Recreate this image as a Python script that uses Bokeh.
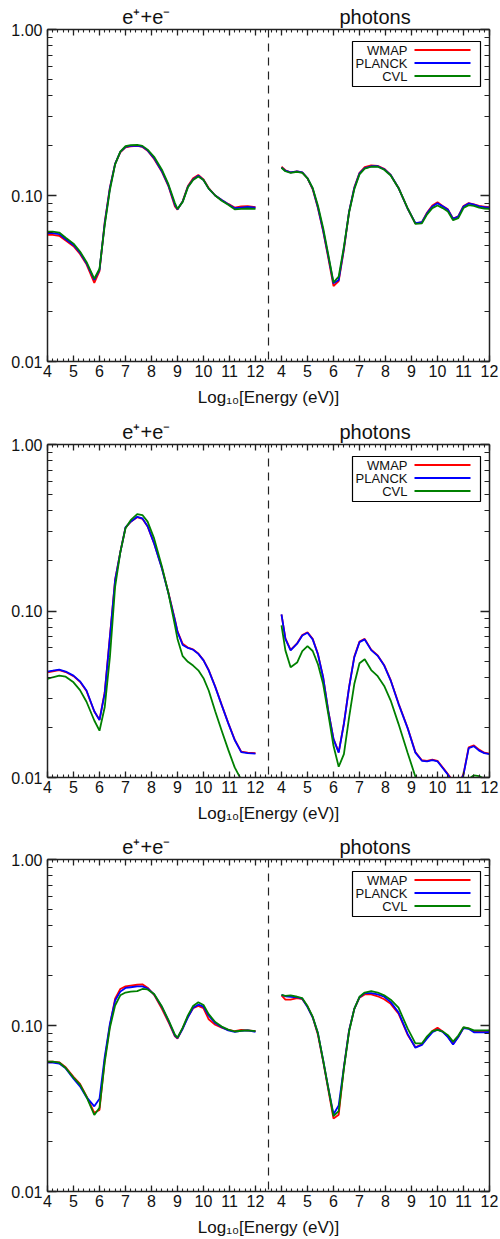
import numpy as np
from bokeh.plotting import figure
from bokeh.layouts import column
from bokeh.models import (FixedTicker, PrintfTickFormatter, LinearAxis, LogAxis,
                          Span, Label, BoxAnnotation, Arrow, Range1d)
from bokeh.embed import file_html
from bokeh.resources import INLINE

FONT = "Liberation Sans"

# ---------------- data ----------------
SERIES = ["WMAP", "PLANCK", "CVL"]
COLORS = ["#ff0000", "#0000ff", "#008000"]

# e+e- energies (log10 eV)
E_X = [4.0, 4.2, 4.45, 4.7, 5.0, 5.25, 5.5, 5.8, 6.0, 6.2, 6.4, 6.6, 6.8, 7.0, 7.2,
       7.45, 7.65, 7.85, 8.1, 8.4, 8.65, 8.9, 9.0, 9.2, 9.4, 9.6, 9.8, 10.0, 10.2,
       10.45, 10.7, 10.95, 11.2, 11.45, 11.7, 12.0]
# photon energies (log10 eV)
G_X = [4.0, 4.15, 4.35, 4.6, 4.8, 5.0, 5.2, 5.4, 5.6, 5.8, 6.0, 6.2, 6.4, 6.6, 6.8,
       7.0, 7.2, 7.45, 7.7, 7.95, 8.2, 8.5, 8.85, 9.15, 9.4, 9.6, 9.8, 10.0, 10.2,
       10.4, 10.6, 10.8, 11.0, 11.2, 11.4, 11.6, 11.8, 12.0]

# panel 1
P1_E_WMAP = [0.0580, 0.0580, 0.0572, 0.0535, 0.0495, 0.0444, 0.0385, 0.0298, 0.0350, 0.0690,
             0.112, 0.155, 0.182, 0.195, 0.198, 0.199, 0.196, 0.186, 0.166, 0.139, 0.114,
             0.086, 0.0822, 0.0925, 0.114, 0.127, 0.133, 0.125, 0.111, 0.100, 0.094, 0.0890,
             0.0845, 0.0860, 0.0862, 0.0850]
P1_E_PLANCK = [0.0593, 0.0593, 0.0585, 0.0545, 0.0504, 0.0452, 0.0391, 0.0310, 0.0357, 0.0680,
               0.1107, 0.155, 0.183, 0.196, 0.199, 0.200, 0.197, 0.187, 0.168, 0.140, 0.115,
               0.088, 0.0827, 0.0921, 0.113, 0.125, 0.1314, 0.124, 0.110, 0.100, 0.094, 0.0885,
               0.0838, 0.0846, 0.0853, 0.0846]
P1_E_CVL = [0.0605, 0.0605, 0.0598, 0.0556, 0.0513, 0.0460, 0.0398, 0.0315, 0.0362, 0.0660,
            0.108, 0.154, 0.184, 0.198, 0.201, 0.202, 0.199, 0.189, 0.171, 0.143, 0.117,
            0.090, 0.0830, 0.0915, 0.112, 0.124, 0.130, 0.124, 0.110, 0.100, 0.093, 0.0880,
            0.0825, 0.0830, 0.0835, 0.0830]
P1_G_WMAP = [0.149, 0.142, 0.138, 0.1395, 0.138, 0.127, 0.109, 0.084, 0.061, 0.042, 0.0285,
             0.0305, 0.047, 0.080, 0.112, 0.137, 0.148, 0.152, 0.151, 0.145, 0.133, 0.111,
             0.0835, 0.0680, 0.0690, 0.0790, 0.0870, 0.0910, 0.0865, 0.0825, 0.0725, 0.0750,
             0.0865, 0.0900, 0.0885, 0.0865, 0.0858, 0.0850]
P1_G_PLANCK = [0.1475, 0.141, 0.138, 0.1395, 0.138, 0.127, 0.110, 0.085, 0.062, 0.043, 0.0296,
               0.031, 0.048, 0.080, 0.111, 0.136, 0.146, 0.150, 0.150, 0.144, 0.133, 0.111,
               0.0835, 0.0681, 0.0690, 0.0783, 0.0859, 0.0898, 0.0860, 0.0820, 0.0723, 0.0747,
               0.0859, 0.0895, 0.0880, 0.0859, 0.0852, 0.0846]
P1_G_CVL = [0.147, 0.140, 0.137, 0.139, 0.137, 0.127, 0.111, 0.087, 0.064, 0.044, 0.0300,
            0.0325, 0.049, 0.079, 0.109, 0.134, 0.145, 0.149, 0.149, 0.143, 0.132, 0.111,
            0.0840, 0.0675, 0.0680, 0.0770, 0.0840, 0.0870, 0.0840, 0.0800, 0.0710, 0.0730,
            0.0840, 0.0875, 0.0865, 0.0845, 0.0835, 0.0830]

# panel 2
P2_E_WMAP = [0.0428, 0.0434, 0.0441, 0.0430, 0.0406, 0.0376, 0.0331, 0.0249, 0.0222, 0.0325,
             0.0705, 0.154, 0.226, 0.317, 0.343, 0.366, 0.358, 0.322, 0.255, 0.181, 0.129,
             0.089, 0.0755, 0.0635, 0.0603, 0.0588, 0.0556, 0.0507, 0.0442, 0.0352, 0.0273,
             0.0213, 0.0169, 0.0143, 0.0141, 0.0140]
P2_E_PLANCK = [0.0433, 0.0438, 0.0445, 0.0433, 0.0409, 0.0378, 0.0333, 0.0250, 0.0221, 0.0320,
               0.0697, 0.153, 0.225, 0.318, 0.344, 0.368, 0.360, 0.323, 0.2545, 0.180, 0.128,
               0.088, 0.075, 0.0625, 0.0600, 0.0585, 0.0553, 0.0505, 0.0440, 0.0350, 0.0272,
               0.0212, 0.0168, 0.0142, 0.0140, 0.0139]
P2_E_CVL = [0.0391, 0.0400, 0.0409, 0.0403, 0.0373, 0.0335, 0.0285, 0.0220, 0.0191, 0.0264,
            0.0528, 0.1395, 0.225, 0.314, 0.351, 0.382, 0.377, 0.344, 0.273, 0.185, 0.128,
            0.082, 0.068, 0.0535, 0.0495, 0.0470, 0.0440, 0.0395, 0.0333, 0.0250, 0.0191,
            0.0147, 0.0115, 0.0097, 0.0084, 0.0076]
P2_G_WMAP = [0.0950, 0.0685, 0.0584, 0.0640, 0.0718, 0.0745, 0.0680, 0.0553, 0.0402, 0.0251,
             0.0171, 0.0142, 0.0211, 0.0350, 0.0532, 0.0655, 0.0680, 0.0586, 0.0541, 0.0473,
             0.0384, 0.0279, 0.0199, 0.0142, 0.0127, 0.0126, 0.0128, 0.0126, 0.0115, 0.0105,
             0.0095, 0.0090, 0.0105, 0.0152, 0.0156, 0.0147, 0.0141, 0.0139]
P2_G_PLANCK = [0.0955, 0.0680, 0.0580, 0.0636, 0.0713, 0.0740, 0.0675, 0.0550, 0.0400, 0.0250,
               0.0170, 0.0141, 0.0210, 0.0348, 0.0528, 0.0650, 0.0675, 0.0582, 0.0538, 0.0470,
               0.0382, 0.0277, 0.0198, 0.0141, 0.0126, 0.0125, 0.0127, 0.0125, 0.0114, 0.0104,
               0.0094, 0.0089, 0.0104, 0.0150, 0.0154, 0.0145, 0.0140, 0.0138]
P2_G_CVL = [0.0820, 0.0580, 0.0460, 0.0490, 0.0574, 0.0615, 0.0575, 0.0480, 0.0365, 0.0240,
            0.0155, 0.0116, 0.0138, 0.0230, 0.0364, 0.0485, 0.0513, 0.0442, 0.0406, 0.0355,
            0.0290, 0.0210, 0.0141, 0.0101, 0.0085, 0.0080, 0.0078, 0.0077, 0.0072, 0.0066,
            0.0062, 0.0065, 0.0080, 0.0098, 0.0103, 0.0102, 0.0098, 0.0096]

# panel 3
P3_E_WMAP = [0.0605, 0.0605, 0.0600, 0.0560, 0.0490, 0.0445, 0.0375, 0.0298, 0.0310, 0.0620,
             0.100, 0.145, 0.166, 0.172, 0.174, 0.176, 0.177, 0.169, 0.153, 0.126, 0.105,
             0.086, 0.0835, 0.0960, 0.113, 0.127, 0.131, 0.127, 0.109, 0.101, 0.0970, 0.0940,
             0.0925, 0.0940, 0.0935, 0.0925]
P3_E_PLANCK = [0.0597, 0.0597, 0.0590, 0.0552, 0.0478, 0.0430, 0.0370, 0.0326, 0.0362, 0.0645,
               0.1023, 0.1413, 0.160, 0.1684, 0.170, 0.172, 0.172, 0.167, 0.154, 0.1293, 0.107,
               0.087, 0.0839, 0.0956, 0.112, 0.128, 0.1335, 0.1298, 0.1146, 0.1034, 0.0977,
               0.0935, 0.0914, 0.0927, 0.0935, 0.0917]
P3_E_CVL = [0.0605, 0.0605, 0.0598, 0.0555, 0.0485, 0.0440, 0.0372, 0.0289, 0.0320, 0.0600,
            0.097, 0.132, 0.152, 0.158, 0.160, 0.161, 0.166, 0.165, 0.155, 0.130, 0.108,
            0.088, 0.0845, 0.0970, 0.115, 0.131, 0.138, 0.133, 0.117, 0.105, 0.0985, 0.0945,
            0.0920, 0.0930, 0.0935, 0.0925]
P3_G_WMAP = [0.152, 0.143, 0.143, 0.146, 0.144, 0.130, 0.112, 0.088, 0.061, 0.041, 0.0275,
             0.0290, 0.0560, 0.0935, 0.126, 0.147, 0.154, 0.154, 0.150, 0.144, 0.135, 0.118,
             0.088, 0.0740, 0.0770, 0.0845, 0.0925, 0.0970, 0.0920, 0.0855, 0.0775, 0.0855,
             0.0970, 0.0960, 0.0920, 0.0920, 0.0925, 0.0930]
P3_G_PLANCK = [0.153, 0.150, 0.149, 0.148, 0.145, 0.129, 0.112, 0.090, 0.062, 0.042, 0.0292,
               0.0330, 0.0562, 0.0935, 0.126, 0.148, 0.1566, 0.1566, 0.154, 0.149, 0.1383,
               0.120, 0.089, 0.0735, 0.0765, 0.0835, 0.0910, 0.0945, 0.0915, 0.0850, 0.0768,
               0.0853, 0.0964, 0.0955, 0.0910, 0.0910, 0.0910, 0.0914]
P3_G_CVL = [0.153, 0.151, 0.152, 0.149, 0.146, 0.131, 0.113, 0.090, 0.062, 0.042, 0.0285,
            0.0305, 0.0550, 0.092, 0.126, 0.149, 0.158, 0.161, 0.158, 0.152, 0.143, 0.128,
            0.096, 0.078, 0.078, 0.0860, 0.0925, 0.0940, 0.0920, 0.0875, 0.0800, 0.0870,
            0.0976, 0.0960, 0.0935, 0.0935, 0.0935, 0.0935]

PANELS = [
    ((P1_E_WMAP, P1_E_PLANCK, P1_E_CVL), (P1_G_WMAP, P1_G_PLANCK, P1_G_CVL)),
    ((P2_E_WMAP, P2_E_PLANCK, P2_E_CVL), (P2_G_WMAP, P2_G_PLANCK, P2_G_CVL)),
    ((P3_E_WMAP, P3_E_PLANCK, P3_E_CVL), (P3_G_WMAP, P3_G_PLANCK, P3_G_CVL)),
]

TITLE_E = "e\u207a+e\u207b"
TITLE_G = "photons"
X_LABEL = "Log\u2081\u2080[Energy (eV)]"
Y_TICKS = [0.01, 0.1, 1.0]
TICK_NUMBERS = list(range(4, 13))  # 4..12 on each half

# ---------------- layout constants ----------------
PHOTON_SHIFT = 9            # photon 4 sits at combined x = 13
X_MIN, X_MAX = 4, 21
DIVIDER = 12.5
TITLE_X_E, TITLE_X_G = 7.8, 16.6
FRAME_W = 442
INK = "#222222"

x_major = [float(t) for t in TICK_NUMBERS] + [float(t + PHOTON_SHIFT) for t in TICK_NUMBERS]
x_minor = [round(v, 2) for v in np.arange(X_MIN, X_MAX + 0.001, 0.2)]
x_over = {t + PHOTON_SHIFT: str(t) for t in TICK_NUMBERS}
x_over.update({t: str(t) for t in TICK_NUMBERS})
y_minor = [m * d for d in (0.01, 0.1) for m in range(2, 10)]


def style_axis(ax, major_in, minor_in, labels=True):
    ax.major_tick_in = major_in
    ax.major_tick_out = 0
    ax.minor_tick_in = minor_in
    ax.minor_tick_out = 0
    ax.axis_line_color = INK
    ax.axis_line_width = 1.5
    ax.major_tick_line_color = INK
    ax.minor_tick_line_color = INK
    ax.major_tick_line_width = 1.3
    ax.minor_tick_line_width = 1.1
    ax.major_label_text_font = FONT
    if labels:
        ax.major_label_text_font_size = "16px"
        ax.major_label_text_color = "#111111"
    else:
        ax.major_label_text_font_size = "1px"
        ax.major_label_text_color = None
        ax.major_label_standoff = 0


def make_panel(e_series, g_series, frame_h, top_border, bottom_border):
    p = figure(frame_width=FRAME_W, frame_height=frame_h,
               x_range=Range1d(X_MIN, X_MAX), y_range=Range1d(0.01, 1.0),
               y_axis_type="log", output_backend="svg", toolbar_location=None,
               min_border_left=47, min_border_right=11,
               min_border_top=top_border, min_border_bottom=bottom_border,
               background_fill_color="white", border_fill_color="white")
    p.grid.visible = False
    p.outline_line_color = None

    xt = FixedTicker(ticks=x_major, minor_ticks=x_minor)
    yt = FixedTicker(ticks=Y_TICKS, minor_ticks=y_minor)

    bx = p.xaxis[0]
    bx.ticker = xt
    bx.major_label_overrides = x_over
    style_axis(bx, 6, 3)
    bx.major_label_standoff = 3
    bx.axis_label = X_LABEL
    bx.axis_label_text_font = FONT
    bx.axis_label_text_font_size = "17px"
    bx.axis_label_text_font_style = "normal"
    bx.axis_label_text_color = "#111111"
    bx.axis_label_standoff = 8

    ly = p.yaxis[0]
    ly.ticker = yt
    ly.formatter = PrintfTickFormatter(format="%.2f")
    style_axis(ly, 9, 5)
    ly.major_label_standoff = 5

    # inward ticks on the top and right edges (box frame)
    tx = LinearAxis(ticker=xt)
    style_axis(tx, 6, 3, labels=False)
    p.add_layout(tx, "above")
    ry = LogAxis(ticker=yt)
    style_axis(ry, 9, 5, labels=False)
    p.add_layout(ry, "right")

    # the two half-panel titles, carried by a bare axis above the frame
    title_axis = LinearAxis(ticker=FixedTicker(ticks=[TITLE_X_E, TITLE_X_G], minor_ticks=[]),
                            major_label_overrides={TITLE_X_E: TITLE_E, TITLE_X_G: TITLE_G},
                            axis_line_color=None, major_tick_line_color=None,
                            minor_tick_line_color=None, major_tick_in=0, major_tick_out=0,
                            minor_tick_in=0, minor_tick_out=0, major_label_standoff=2,
                            major_label_text_font=FONT, major_label_text_font_size="20px",
                            major_label_text_color="#111111")
    p.add_layout(title_axis, "above")

    for vals, c in zip(e_series, COLORS):
        p.line(E_X, vals, line_color=c, line_width=1.8)
    gx = [v + PHOTON_SHIFT for v in G_X]
    for vals, c in zip(g_series, COLORS):
        p.line(gx, vals, line_color=c, line_width=1.8)

    p.add_layout(Span(location=DIVIDER, dimension="height", line_color=INK,
                      line_width=1.2, line_dash="8 6"))

    # legend (label left, line right, as in the original)
    p.add_layout(BoxAnnotation(left=305, right=433, top=frame_h - 12, bottom=frame_h - 57,
                               left_units="screen", right_units="screen",
                               top_units="screen", bottom_units="screen",
                               fill_color="white", fill_alpha=1.0,
                               line_color="black", line_width=1.2, line_alpha=1.0))
    for i, (name, c) in enumerate(zip(SERIES, COLORS)):
        yy = frame_h - (20.5 + 13 * i)
        p.add_layout(Label(x=360, y=yy, x_units="screen", y_units="screen", text=name,
                           text_align="right", text_baseline="middle", text_font=FONT,
                           text_font_size="13px", text_color="#111111"))
        p.add_layout(Arrow(end=None, x_start=367, y_start=yy, x_end=423, y_end=yy,
                           start_units="screen", end_units="screen",
                           line_color=c, line_width=2))
    return p


# (frame height, top border, bottom border) per panel
GEOM = [(332, 29, 49), (333, 34, 48), (332, 34, 46)]
figs = [make_panel(e_s, g_s, fh, tb, bb) for (e_s, g_s), (fh, tb, bb) in zip(PANELS, GEOM)]

layout = column(*figs, spacing=0)
open("out.html", "w").write(file_html(layout, INLINE))
